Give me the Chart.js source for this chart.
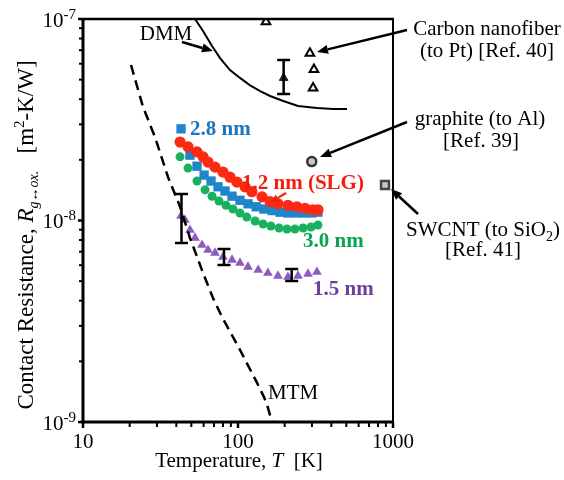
<!DOCTYPE html>
<html>
<head>
<meta charset="utf-8">
<script src="https://cdn.jsdelivr.net/npm/chart.js@4/dist/chart.umd.min.js"></script>
<style>
  html, body { margin: 0; padding: 0; background: #fff; }
  canvas { display: block; }
</style>
</head>
<body>
<canvas id="c" width="564" height="480"></canvas>
<script>
// ---------------- data ----------------
const xTicks = [10, 100, 1000];
const xTickLabels = ['10', '100', '1000'];
const yTicks = [1e-9, 1e-8, 1e-7];
const yTickExp = ['-9', '-8', '-7'];

// 1.2 nm (SLG) - red
const redT = [42.3, 47.6, 54.4, 59.5, 64.0, 71.1, 80.0, 88.8, 98.5, 111, 123, 143, 161, 181, 210, 240, 271, 305, 328];
const redR = [2.45e-8, 2.32e-8, 2.19e-8, 2.07e-8, 1.95e-8, 1.84e-8, 1.74e-8, 1.64e-8, 1.55e-8, 1.47e-8, 1.39e-8, 1.31e-8, 1.24e-8, 1.21e-8, 1.19e-8, 1.17e-8, 1.15e-8, 1.13e-8, 1.13e-8];

// 2.8 nm - blue
const blueT = [42.9, 49.0, 54.4, 60.4, 67.0, 74.3, 82.5, 91.5, 103, 116, 131, 147, 166, 187, 210, 237, 267, 300, 328];
const blueR = [2.85e-8, 2.11e-8, 1.86e-8, 1.68e-8, 1.57e-8, 1.47e-8, 1.40e-8, 1.32e-8, 1.26e-8, 1.21e-8, 1.17e-8, 1.14e-8, 1.12e-8, 1.10e-8, 1.09e-8, 1.09e-8, 1.09e-8, 1.09e-8, 1.10e-8];

// 3.0 nm - green
const greenT = [42.3, 47.6, 54.4, 61.3, 68.0, 75.4, 83.7, 92.8, 103, 114, 129, 145, 163, 184, 207, 233, 263, 296, 328];
const greenR = [2.07e-8, 1.82e-8, 1.57e-8, 1.42e-8, 1.32e-8, 1.25e-8, 1.19e-8, 1.14e-8, 1.09e-8, 1.04e-8, 9.94e-9, 9.61e-9, 9.39e-9, 9.18e-9, 9.07e-9, 9.07e-9, 9.18e-9, 9.28e-9, 9.50e-9];

// 1.5 nm - purple
const purpleT = [42.9, 45.5, 49.0, 52.8, 58.6, 64.0, 71.1, 80.0, 91.5, 103, 116, 135, 156, 181, 210, 244, 283, 323];
const purpleR = [1.053e-8, 1.006e-8, 8.97e-9, 8.19e-9, 7.56e-9, 7.14e-9, 6.90e-9, 6.59e-9, 6.37e-9, 6.15e-9, 5.88e-9, 5.68e-9, 5.49e-9, 5.31e-9, 5.24e-9, 5.31e-9, 5.43e-9, 5.55e-9];

// DMM model (solid)
const dmmT = [52.8, 59.5, 68.0, 76.6, 88.8, 103, 119, 139, 161, 196, 244, 323, 411, 505];
const dmmR = [1.0e-7, 8.72e-8, 7.35e-8, 6.40e-8, 5.58e-8, 5.10e-8, 4.70e-8, 4.39e-8, 4.15e-8, 3.92e-8, 3.70e-8, 3.62e-8, 3.58e-8, 3.58e-8];

// MTM model (dashed)
const mtmT = [20.4, 24.4, 29.1, 35.4, 42.3, 49.0, 59.5, 69.0, 78.9, 103, 133, 147, 154, 161, 168];
const mtmR = [5.91e-8, 3.66e-8, 2.60e-8, 1.64e-8, 1.17e-8, 8.19e-9, 5.49e-9, 4.12e-9, 3.32e-9, 2.28e-9, 1.56e-9, 1.33e-9, 1.22e-9, 1.08e-9, 1.0e-9];

// Carbon nanofiber (to Pt) [Ref. 40]
const cnfT = [151.5, 291, 309, 305];
const cnfR = [9.70e-8, 6.76e-8, 5.62e-8, 4.55e-8];

// graphite (to Al) [Ref. 39]
const graphiteT = [299];
const graphiteR = [1.96e-8];

// SWCNT (to SiO2) [Ref. 41]
const swcntT = [888];
const swcntR = [1.50e-8];

// single dark point with error bar
const darkT = [197];
const darkR = [5.10e-8];

// error bars
const ebT = [43.2, 81.2, 222, 197];
const ebLow = [7.73e-9, 6.01e-9, 5.01e-9, 4.24e-8];
const ebHigh = [1.353e-8, 7.22e-9, 5.74e-9, 6.26e-8];

// ---------------- helpers ----------------
const pts = (xs, ys) => xs.map((v, i) => ({ x: v, y: ys[i] }));
const SERIF = '"Liberation Serif", "Times New Roman", serif';

function rich(ctx, segs, x, y, align) {
  let total = 0;
  segs.forEach(s => { ctx.font = s.font; s.w = ctx.measureText(s.t).width; total += s.w; });
  let cx = align === 'center' ? x - total / 2 : (align === 'right' ? x - total : x);
  ctx.textAlign = 'left';
  ctx.textBaseline = 'alphabetic';
  segs.forEach(s => {
    ctx.font = s.font;
    ctx.fillStyle = s.color || '#000';
    ctx.fillText(s.t, cx, y + (s.dy || 0));
    cx += s.w;
  });
}

function arrow(ctx, x1, y1, x2, y2, color, lw, hl, hw) {
  const a = Math.atan2(y2 - y1, x2 - x1);
  const bx = x2 - hl * Math.cos(a), by = y2 - hl * Math.sin(a);
  ctx.strokeStyle = color; ctx.fillStyle = color; ctx.lineWidth = lw;
  ctx.setLineDash([]);
  ctx.beginPath(); ctx.moveTo(x1, y1); ctx.lineTo(bx, by); ctx.stroke();
  ctx.beginPath();
  ctx.moveTo(x2, y2);
  ctx.lineTo(bx + hw / 2 * Math.sin(a), by - hw / 2 * Math.cos(a));
  ctx.lineTo(bx - hw / 2 * Math.sin(a), by + hw / 2 * Math.cos(a));
  ctx.closePath(); ctx.fill();
}

const N = (sz) => `${sz}px ${SERIF}`;
const B = (sz) => `bold ${sz}px ${SERIF}`;
const I = (sz) => `italic ${sz}px ${SERIF}`;

const decor = {
  id: 'decor',
  afterDatasetsDraw(chart) {
    const { ctx, chartArea: ca, scales: { x, y } } = chart;
    ctx.save();
    ctx.setLineDash([]);
    ctx.lineCap = 'butt';

    // error bars
    ctx.strokeStyle = '#000';
    ctx.lineWidth = 2.5;
    ebT.forEach((t, i) => {
      const px = x.getPixelForValue(t);
      const p1 = y.getPixelForValue(ebLow[i]);
      const p2 = y.getPixelForValue(ebHigh[i]);
      ctx.beginPath();
      ctx.moveTo(px, p1); ctx.lineTo(px, p2);
      ctx.moveTo(px - 6.5, p1); ctx.lineTo(px + 6.5, p1);
      ctx.moveTo(px - 6.5, p2); ctx.lineTo(px + 6.5, p2);
      ctx.stroke();
    });

    // frame
    ctx.strokeStyle = '#000';
    ctx.lineWidth = 2.5;
    ctx.beginPath(); ctx.moveTo(ca.left, ca.top); ctx.lineTo(ca.right + 1, ca.top); ctx.stroke();
    ctx.lineWidth = 2;
    ctx.beginPath(); ctx.moveTo(ca.right, ca.top); ctx.lineTo(ca.right, ca.bottom); ctx.stroke();
    ctx.lineWidth = 3;
    ctx.beginPath(); ctx.moveTo(ca.left, ca.top - 1); ctx.lineTo(ca.left, ca.bottom + 1.5); ctx.stroke();
    ctx.beginPath(); ctx.moveTo(ca.left - 1.5, ca.bottom); ctx.lineTo(ca.right + 1, ca.bottom); ctx.stroke();

    // x ticks (major + minor)
    for (let d = 10; d <= 1000; d *= 10) {
      for (let m = 1; m <= 9; m++) {
        const v = d * m;
        if (v > 1000) break;
        const px = x.getPixelForValue(v);
        ctx.lineWidth = m === 1 ? 2.5 : 2;
        ctx.beginPath(); ctx.moveTo(px, ca.bottom); ctx.lineTo(px, ca.bottom + (m === 1 ? 6 : 5)); ctx.stroke();
      }
    }
    // y ticks
    for (let d = 1e-9; d <= 1.01e-7; d *= 10) {
      for (let m = 1; m <= 9; m++) {
        const v = d * m;
        if (v > 1.01e-7) break;
        const py = y.getPixelForValue(v);
        ctx.lineWidth = m === 1 ? 2.5 : 2;
        ctx.beginPath(); ctx.moveTo(ca.left, py); ctx.lineTo(ca.left - (m === 1 ? 5 : 4), py); ctx.stroke();
      }
    }

    // x tick labels
    ctx.fillStyle = '#000';
    ctx.font = N(21);
    ctx.textAlign = 'center';
    ctx.textBaseline = 'alphabetic';
    xTicks.forEach((v, i) => {
      ctx.fillText(xTickLabels[i], x.getPixelForValue(v), ca.bottom + 26);
    });
    // y tick labels
    yTicks.forEach((v, i) => {
      const py = y.getPixelForValue(v);
      rich(ctx, [
        { t: '10', font: N(21) },
        { t: yTickExp[i], font: N(15), dy: -8 }
      ], ca.left - 7, py + 7.5, 'right');
    });

    // axis titles
    rich(ctx, [
      { t: 'Temperature, ', font: N(21) },
      { t: 'T', font: I(21) },
      { t: '  [K]', font: N(21) }
    ], 239, 467, 'center');

    ctx.save();
    ctx.translate(33, 235);
    ctx.rotate(-Math.PI / 2);
    rich(ctx, [
      { t: 'Contact Resistance, ', font: N(23) },
      { t: 'R', font: I(23) },
      { t: 'g\u2194ox.', font: I(14), dy: 5 },
      { t: '   [m', font: N(23) },
      { t: '2', font: N(15), dy: -9 },
      { t: '-K/W]', font: N(23) }
    ], 0, 0, 'center');
    ctx.restore();

    // series labels
    rich(ctx, [{ t: '2.8 nm', font: B(21), color: '#1b76c0' }], 190, 135, 'left');
    rich(ctx, [{ t: '1.2 nm (SLG)', font: B(21), color: '#f41e0a' }], 242, 189, 'left');
    rich(ctx, [{ t: '3.0 nm', font: B(21), color: '#08a452' }], 303, 247, 'left');
    rich(ctx, [{ t: '1.5 nm', font: B(21), color: '#6d3f9f' }], 313, 295, 'left');

    // model labels
    rich(ctx, [{ t: 'DMM', font: N(21) }], 166, 40, 'center');
    rich(ctx, [{ t: 'MTM', font: N(21) }], 268, 399, 'left');

    // reference annotations
    rich(ctx, [{ t: 'Carbon nanofiber', font: N(21) }], 487, 35, 'center');
    rich(ctx, [{ t: '(to Pt) [Ref. 40]', font: N(21) }], 487, 57, 'center');
    rich(ctx, [{ t: 'graphite (to Al)', font: N(21) }], 480, 125, 'center');
    rich(ctx, [{ t: '[Ref. 39]', font: N(21) }], 481, 147, 'center');
    rich(ctx, [
      { t: 'SWCNT (to SiO', font: N(21) },
      { t: '2', font: N(14), dy: 5 },
      { t: ')', font: N(21) }
    ], 483, 236, 'center');
    rich(ctx, [{ t: '[Ref. 41]', font: N(21) }], 483, 256, 'center');

    // arrows
    arrow(ctx, 182, 42, 213, 51, '#000', 2.5, 11, 9);
    arrow(ctx, 407, 30, 317, 52, '#000', 2.5, 11, 9);
    arrow(ctx, 407, 122, 320, 157, '#000', 2.5, 11, 9);
    arrow(ctx, 418, 214, 391, 189, '#000', 2.5, 11, 9);
    arrow(ctx, 286, 193, 271, 202, '#f41e0a', 2.2, 8, 8);

    ctx.restore();
  }
};

new Chart(document.getElementById('c'), {
  type: 'scatter',
  data: {
    datasets: [
      { data: pts(mtmT, mtmR), showLine: true, borderColor: '#000', borderWidth: 2.5, borderDash: [10, 6], pointRadius: 0, order: 0, tension: 0 },
      { data: pts(dmmT, dmmR), showLine: true, borderColor: '#000', borderWidth: 2, pointRadius: 0, order: 0, tension: 0 },
      { data: pts(redT, redR), pointStyle: 'circle', pointRadius: 5.6, backgroundColor: '#fb2a12', borderWidth: 0, order: 1 },
      { data: pts(blueT, blueR), pointStyle: 'rect', pointRadius: 6.6, backgroundColor: '#2185cc', borderWidth: 0, order: 2 },
      { data: pts(greenT, greenR), pointStyle: 'circle', pointRadius: 4.5, backgroundColor: '#17b15f', borderWidth: 0, order: 3 },
      { data: pts(purpleT, purpleR), pointStyle: 'triangle', pointRadius: 5.6, backgroundColor: '#8c5cc0', borderWidth: 0, order: 4 },
      { data: pts(cnfT, cnfR), pointStyle: 'triangle', pointRadius: 5, backgroundColor: '#fff', borderColor: '#000', borderWidth: 2, order: 5 },
      { data: pts(graphiteT, graphiteR), pointStyle: 'circle', pointRadius: 4.5, backgroundColor: '#c8c8c8', borderColor: '#333', borderWidth: 2.5, order: 5 },
      { data: pts(swcntT, swcntR), pointStyle: 'rect', pointRadius: 5.6, backgroundColor: '#c8c8c8', borderColor: '#444', borderWidth: 2.5, order: 5 },
      { data: pts(darkT, darkR), pointStyle: 'triangle', pointRadius: 5, backgroundColor: '#222', borderColor: '#222', borderWidth: 1, order: 5 }
    ]
  },
  options: {
    responsive: false,
    animation: false,
    devicePixelRatio: 1,
    layout: { padding: { left: 83, top: 19, right: 171, bottom: 58 } },
    plugins: { legend: { display: false }, tooltip: { enabled: false } },
    scales: {
      x: { type: 'logarithmic', min: 10, max: 1000, display: false },
      y: { type: 'logarithmic', min: 1e-9, max: 1e-7, display: false }
    }
  },
  plugins: [decor]
});
</script>
</body>
</html>
